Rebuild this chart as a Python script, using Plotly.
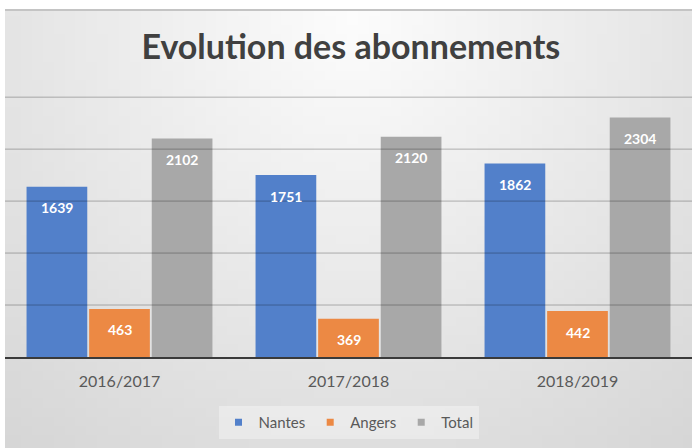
import plotly.graph_objects as go
import zlib, struct, base64, math

categories = ["2016/2017", "2017/2018", "2018/2019"]
nantes = [1639, 1751, 1862]
angers = [463, 369, 442]
total = [2102, 2120, 2304]
series_names = ["Nantes", "Angers", "Total"]
colors = ["#5280CA", "#EC8944", "#A8A8A8"]

# background gradient image (styling only)
def make_png(w, h):
    rows = b""
    for j in range(h):
        row = b"\x00"
        for i in range(w):
            dx = (i / (w - 1) - 0.5) * 1.6
            dy = j / (h - 1)
            d = math.sqrt(dx * dx + dy * dy)
            c = int(max(212, min(253, 253 - 30 * d)))
            row += bytes([c, c, c])
        rows += row
    def chunk(t, data):
        return struct.pack(">I", len(data)) + t + data + struct.pack(">I", zlib.crc32(t + data) & 0xffffffff)
    png = b"\x89PNG\r\n\x1a\n"
    png += chunk(b"IHDR", struct.pack(">IIBBBBB", w, h, 8, 2, 0, 0, 0))
    png += chunk(b"IDAT", zlib.compress(rows))
    png += chunk(b"IEND", b"")
    return "data:image/png;base64," + base64.b64encode(png).decode()

bg = make_png(64, 48)

W, H = 692, 448
ml, mr, mt, mb = 5, 0, 93, 91
pw = W - ml - mr
ph = H - mt - mb
bargap, bargroupgap = 0.18, 0.03
slot = pw / len(categories) * (1 - bargap) / len(series_names)

def py(px):
    return (H - mb - px) / ph

fig = go.Figure()
annotations = []
for k, (name, vals, col) in enumerate(zip(series_names, [nantes, angers, total], colors)):
    fig.add_trace(go.Bar(
        x=categories, y=vals, name=name, marker=dict(color=col, line=dict(width=0)),
        hoverinfo="skip", showlegend=False, legendgroup=name,
    ))
    for c, v in zip(categories, vals):
        annotations.append(dict(
            x=c, y=v, xref="x", yref="y", text=f"<b>{v}</b>", showarrow=False,
            xshift=(k - 1) * slot, yshift=-21, yanchor="middle",
            font=dict(family="Lato", size=14, color="white"),
        ))
# legend entries (small square swatches)
for name, col in zip(series_names, colors):
    fig.add_trace(go.Scatter(
        x=[None], y=[None], mode="markers", name=name, legendgroup=name,
        marker=dict(symbol="square", size=7, color=col), hoverinfo="skip",
    ))

shapes = []
for v in range(500, 3000, 500):
    shapes.append(dict(type="line", xref="paper", x0=0, x1=1, yref="y", y0=v, y1=v,
                       line=dict(color="rgba(0,0,0,0.28)", width=1), layer="above"))
shapes.append(dict(type="line", xref="paper", x0=0, x1=1.01, yref="paper", y0=py(10), y1=py(10),
                   line=dict(color="#c4c4c4", width=2), layer="below"))

fig.update_layout(
    width=W, height=H,
    margin=dict(l=ml, r=mr, t=mt, b=mb, autoexpand=False),
    paper_bgcolor="white", plot_bgcolor="rgba(0,0,0,0)",
    barmode="group", bargap=bargap, bargroupgap=bargroupgap,
    title=dict(text="<b>Evolution des abonnements</b>", x=0.507, xanchor="center",
               y=1 - 47 / H, yanchor="middle",
               font=dict(family="Lato", size=34, color="#404040")),
    font=dict(family="Lato", color="#595959"),
    xaxis=dict(showline=True, linecolor="#3a3a3a", linewidth=2, ticks="outside", ticklen=9,
               tickcolor="rgba(0,0,0,0)",
               tickfont=dict(size=16, color="#595959"), showgrid=False, zeroline=False,
               layer="above traces"),
    yaxis=dict(range=[0, 2540], showgrid=False, showticklabels=False, zeroline=False, ticks=""),
    legend=dict(orientation="h", x=0.5, xanchor="center", y=py(406), yanchor="top",
                bgcolor="rgba(255,255,255,0.35)", font=dict(size=15, color="#595959"),
                itemwidth=30, traceorder="normal"),
    images=[dict(source=bg, xref="paper", yref="paper", x=0, y=py(11), sizex=1.01,
                 sizey=py(11) - py(448), sizing="stretch", layer="below", xanchor="left", yanchor="top")],
    shapes=shapes,
    annotations=annotations,
    showlegend=True,
)

fig.write_html("out.html", config={"displayModeBar": False},
               post_script="document.body.style.margin='0';document.body.style.padding='0';")
